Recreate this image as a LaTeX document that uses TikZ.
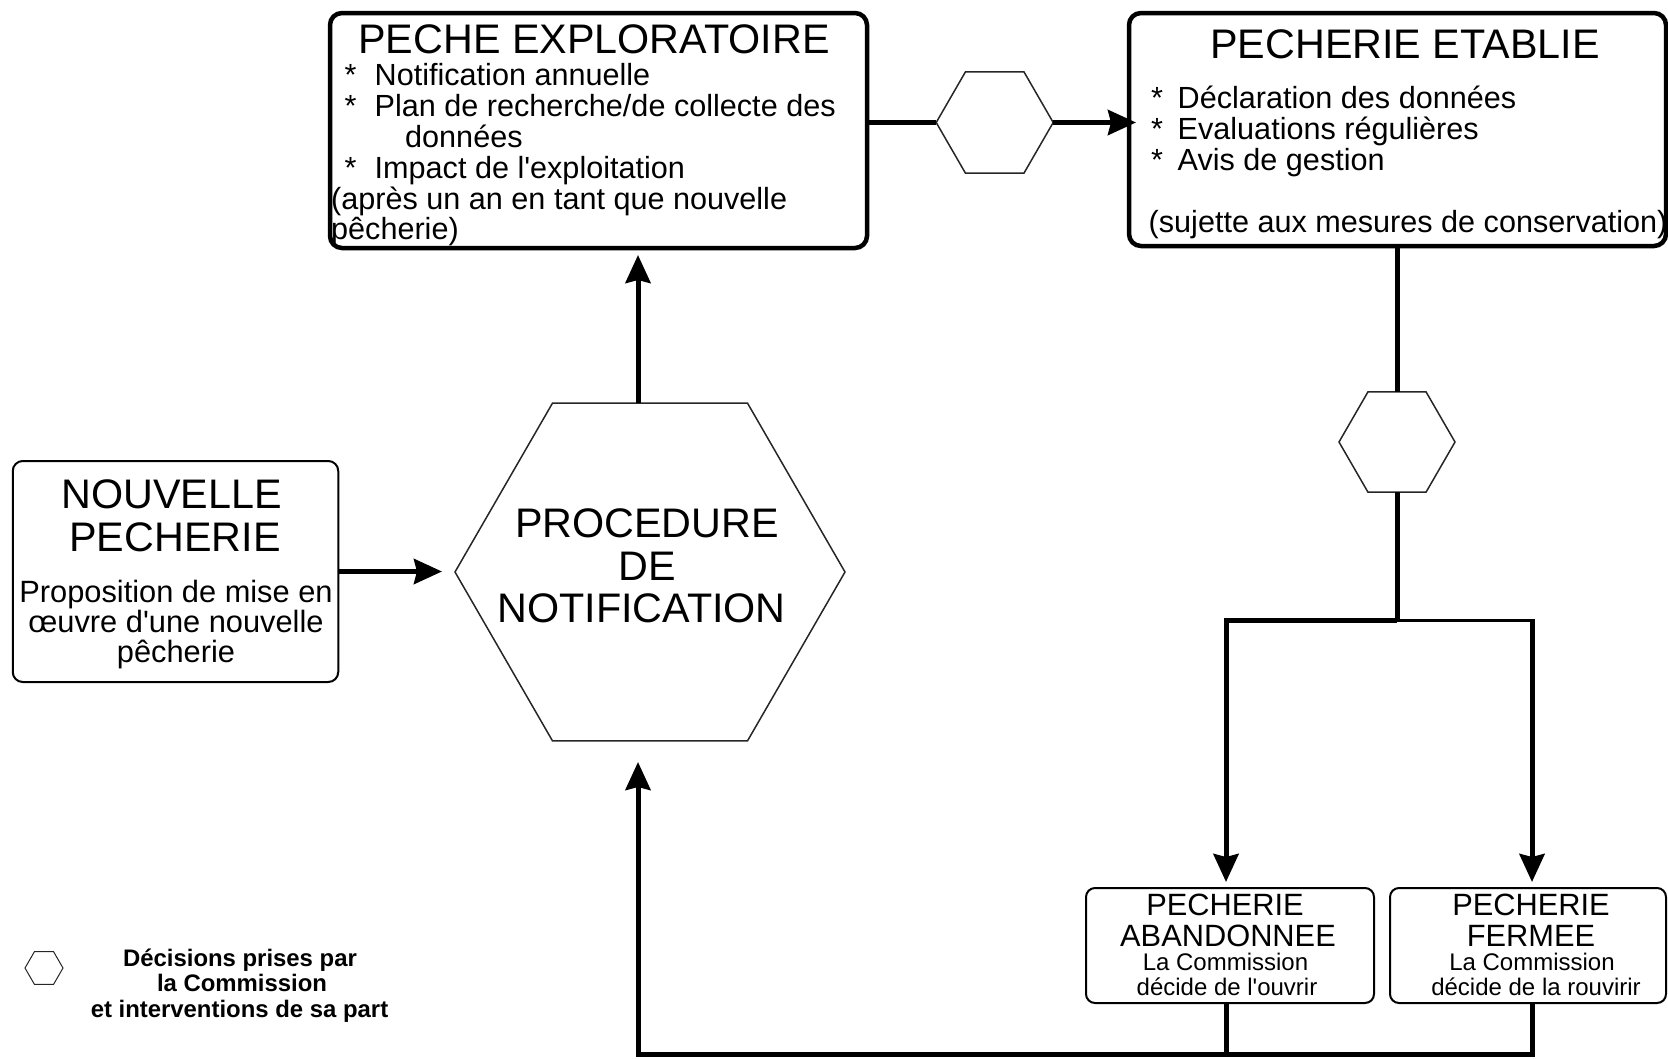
\documentclass[tikz,border=0pt]{standalone}
\usepackage{fontspec}
\setmainfont{Liberation Sans}
\usetikzlibrary{arrows.meta,shapes.geometric}
\begin{document}
\begin{tikzpicture}[x=1pt,y=-1pt,
  bigbox/.style={draw, line width=4.5pt, rounded corners=12pt, inner sep=0pt, outer sep=0pt},
  smallbox/.style={draw, line width=2pt, rounded corners=9pt, inner sep=0pt, outer sep=0pt},
  hexa/.style={draw=black!85, line width=1.5pt, regular polygon, regular polygon sides=6, inner sep=0pt, outer sep=0pt},
  conn/.style={line width=5pt},
  arr/.style={line width=5pt, -{Stealth[length=28pt,width=25pt,inset=3pt]}},
  ttl/.style={font=\fontsize{41.3}{43}\selectfont, inner sep=0pt, anchor=base},
  ttm/.style={font=\fontsize{30.8}{31}\selectfont, inner sep=0pt, anchor=base},
  sml/.style={font=\fontsize{24}{25}\selectfont, inner sep=0pt, anchor=base},
  bdy/.style={font=\fontsize{30.6}{31}\selectfont, inner sep=0pt, anchor=base west},
  lgd/.style={font=\fontsize{23.9}{25}\selectfont\bfseries, inner sep=0pt, anchor=base}
]
\useasboundingbox (0,0) rectangle (1668,1058);

% boxes
\node[bigbox, minimum width=537pt, minimum height=235pt] (expl) at (598.5,130.5) {};
\node[bigbox, minimum width=537pt, minimum height=233pt] (etab) at (1397.5,129.5) {};
\node[smallbox, rounded corners=10pt, minimum width=325.5pt, minimum height=221pt] (nouv) at (175.5,571.5) {};
\node[smallbox, minimum width=288pt, minimum height=115pt] (aban) at (1230,945.5) {};
\node[smallbox, minimum width=276pt, minimum height=115pt] (ferm) at (1528,945.5) {};

% hexagons
\node[hexa, minimum size=390pt] (proc) at (650,572) {};
\node[hexa, minimum size=117pt] (hexa1) at (994.7,122.5) {};
\node[hexa, minimum size=116pt] (hexb) at (1397,442) {};
\node[hexa, line width=1pt, minimum size=38pt] (hexl) at (44,968) {};

% coordinates
\coordinate (tipB) at (1136,122.5);
\coordinate (junc) at (1397,620);
\coordinate (jl) at (1226,620);
\coordinate (jr) at (1532,620);
\coordinate (tipL) at (1226,882);
\coordinate (tipR) at (1532,882);
\coordinate (bA) at (1226,1054);
\coordinate (bF) at (1532,1054);
\coordinate (bP) at (638,1054);
\coordinate (tipP) at (638,762);
\coordinate (tipE) at (638,255);
\coordinate (tipN) at (442,571.5);

% connectors
\draw[conn] (hexa1.west -| expl.east) -- (hexa1.west);
\draw[arr] (hexa1.east) -- (tipB);
\draw[conn] (hexb.north |- etab.south) -- (hexb.north);
\draw[conn] (hexb.south) -- (junc);
\draw[arr] (junc) -| (tipL);
\draw[line width=3pt] (junc) -- (jr);
\draw[arr] ([yshift=1.5pt]jr) -- (tipR);
\draw[conn] (aban.south -| bA) -- (bA);
\draw[conn] (ferm.south -| bF) -- (bF);
\draw[arr] ([xshift=2.5pt]bF) -- (bP) -- (tipP);
\draw[arr] (proc.north -| bP) -- (tipE);
\draw[arr] (nouv.east) -- (tipN);

% PECHE EXPLORATOIRE
\node[ttl] (t1) at (594,53) {PECHE EXPLORATOIRE};
\node[bdy] (e1s) at (344.5,85) {*};
\node[bdy] (e1) at (374.5,85) {Notification annuelle};
\node[bdy] (e2s) at (344.5,116) {*};
\node[bdy] (e2) at (374.5,116) {Plan de recherche/de collecte des};
\node[bdy] (e3) at (405,147) {données};
\node[bdy] (e4s) at (344.5,178) {*};
\node[bdy] (e4) at (374.5,178) {Impact de l\textquotesingle{}exploitation};
\node[bdy] (e5) at (331,209) {(après un an en tant que nouvelle};
\node[bdy] (e6) at (331,239) {pêcherie)};

% PECHERIE ETABLIE
\node[ttl] (t2) at (1405,58.5) {PECHERIE ETABLIE};
\node[bdy] (f1s) at (1151,108.5) {*};
\node[bdy] (f1) at (1177.5,108.5) {Déclaration des données};
\node[bdy] (f2s) at (1151,139.5) {*};
\node[bdy] (f2) at (1177.5,139.5) {Evaluations régulières};
\node[bdy] (f3s) at (1151,170) {*};
\node[bdy] (f3) at (1177.5,170) {Avis de gestion};
\node[bdy] (f4) at (1148.5,232) {(sujette aux mesures de conservation)};

% NOUVELLE PECHERIE
\node[ttl] (n1) at (171.5,508.5) {NOUVELLE};
\node[ttl] (n2) at (175,551.5) {PECHERIE};
\node[ttm] (n3) at (176,602) {Proposition de mise en};
\node[ttm] (n4) at (176,632.5) {œuvre d\textquotesingle{}une nouvelle};
\node[ttm] (n5) at (176,662.5) {pêcherie};

% PROCEDURE
\node[ttl] (p1) at (647,537.5) {PROCEDURE};
\node[ttl] (p2) at (647,580) {DE};
\node[ttl] (p3) at (641.5,622.5) {NOTIFICATION};

% small boxes
\node[ttm] (a1) at (1225,915) {PECHERIE};
\node[ttm] (a2) at (1228,946) {ABANDONNEE};
\node[sml] (a3) at (1225.5,970.5) {La Commission};
\node[sml] (a4) at (1227,995.5) {décide de l\textquotesingle{}ouvrir};
\node[ttm] (b1) at (1531,915) {PECHERIE};
\node[ttm] (b2) at (1531,946) {FERMEE};
\node[sml] (b3) at (1532,970.5) {La Commission};
\node[sml] (b4) at (1536,995.5) {décide de la rouvirir};

% legend
\node[lgd] (l1) at (240,966) {Décisions prises par};
\node[lgd] (l2) at (242,991.5) {la Commission};
\node[lgd] (l3) at (239.5,1017) {et interventions de sa part};
\end{tikzpicture}
\end{document}
